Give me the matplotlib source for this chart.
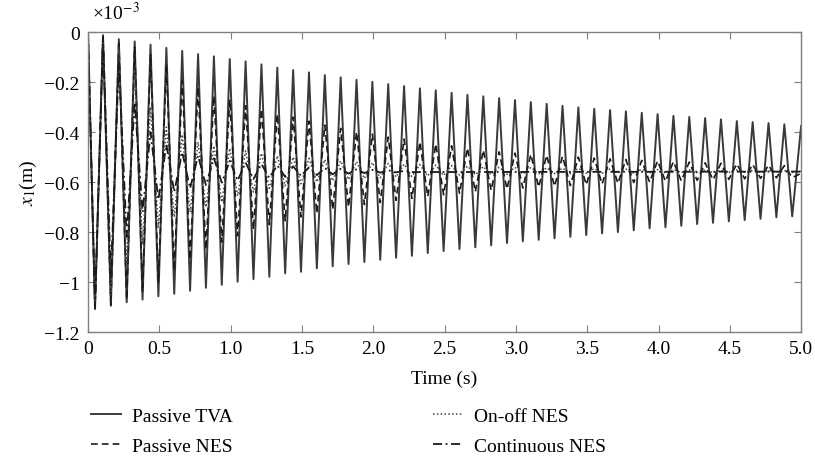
import numpy as np
import matplotlib.pyplot as plt
from matplotlib.lines import Line2D

# values in 1e-3 m, read per oscillation cycle (troughs come first, then peaks)
period = 0.1111          # s, from peak spacing
first_trough = 0.049     # s
first_peak = 0.105       # s
t_end = 5.0

tva_troughs = [-1.108, -1.095, -1.081, -1.070, -1.057, -1.047, -1.035, -1.023, -1.011, -0.999,
               -0.988, -0.979, -0.965, -0.959, -0.945, -0.937, -0.928, -0.920, -0.911, -0.903,
               -0.895, -0.884, -0.876, -0.868, -0.861, -0.853, -0.844, -0.837, -0.831, -0.825,
               -0.819, -0.812, -0.805, -0.800, -0.793, -0.785, -0.781, -0.775, -0.768, -0.763,
               -0.757, -0.752, -0.747, -0.741, -0.737]
tva_peaks = [-0.012, -0.028, -0.037, -0.050, -0.063, -0.075, -0.088, -0.097, -0.108, -0.117,
             -0.129, -0.142, -0.152, -0.161, -0.172, -0.181, -0.191, -0.199, -0.208, -0.216,
             -0.225, -0.233, -0.243, -0.251, -0.257, -0.264, -0.272, -0.280, -0.287, -0.295,
             -0.301, -0.307, -0.312, -0.317, -0.323, -0.328, -0.335, -0.339, -0.344, -0.349,
             -0.356, -0.360, -0.364, -0.369]
tva_start, tva_last = 0.0, -0.375

pnes_troughs = [-1.105, -1.090, -1.070, -1.040, -1.000, -0.955, -0.910, -0.870, -0.840, -0.815,
                -0.790, -0.770, -0.755, -0.740, -0.725, -0.710, -0.700, -0.690, -0.682, -0.673,
                -0.665, -0.658, -0.651, -0.645, -0.639, -0.633, -0.628, -0.624, -0.620, -0.617,
                -0.614, -0.611, -0.608, -0.605, -0.602, -0.600, -0.597, -0.595, -0.593, -0.591,
                -0.589, -0.587, -0.585, -0.583, -0.582]
pnes_peaks = [-0.015, -0.035, -0.060, -0.090, -0.130, -0.195, -0.220, -0.255, -0.270, -0.295,
              -0.308, -0.328, -0.340, -0.356, -0.372, -0.385, -0.399, -0.408, -0.420, -0.428,
              -0.439, -0.448, -0.455, -0.464, -0.472, -0.479, -0.484, -0.489, -0.493, -0.497,
              -0.500, -0.504, -0.507, -0.510, -0.513, -0.515, -0.518, -0.520, -0.523, -0.525,
              -0.527, -0.529, -0.532, -0.534]
pnes_start, pnes_last = 0.0, -0.565

onoff_troughs = [-1.100, -1.050, -0.950, -0.850, -0.780, -0.740, -0.720, -0.700, -0.680, -0.655,
                 -0.640, -0.625, -0.615, -0.607, -0.600, -0.595, -0.590, -0.586, -0.583, -0.580,
                 -0.578, -0.576, -0.574, -0.572, -0.571, -0.570, -0.569, -0.568, -0.567, -0.566,
                 -0.566, -0.565, -0.565, -0.564, -0.564, -0.563, -0.563, -0.562, -0.562, -0.562,
                 -0.561, -0.561, -0.561, -0.560, -0.560]
onoff_peaks = [-0.020, -0.060, -0.150, -0.300, -0.380, -0.410, -0.440, -0.455, -0.465, -0.475,
               -0.485, -0.495, -0.500, -0.505, -0.510, -0.515, -0.518, -0.522, -0.525, -0.528,
               -0.530, -0.532, -0.534, -0.536, -0.538, -0.540, -0.541, -0.542, -0.543, -0.544,
               -0.545, -0.546, -0.547, -0.548, -0.549, -0.550, -0.550, -0.551, -0.551, -0.552,
               -0.552, -0.553, -0.553, -0.554]
onoff_start, onoff_last = 0.0, -0.557

cont_troughs = [-1.100, -0.980, -0.820, -0.720, -0.670, -0.640, -0.625, -0.612, -0.602, -0.594,
                -0.588, -0.583, -0.579, -0.575, -0.572, -0.569, -0.566, -0.564, -0.562, -0.561,
                -0.560]
cont_peaks = [-0.020, -0.120, -0.280, -0.400, -0.450, -0.480, -0.495, -0.505, -0.515, -0.522,
              -0.528, -0.533, -0.537, -0.541, -0.544, -0.547, -0.549, -0.551, -0.553, -0.555]
cont_start, cont_last = 0.0, -0.558

labels = ['Passive TVA', 'Passive NES', 'On-off NES', 'Continuous NES']


def build(start, troughs, peaks, last):
    t = [0.0]
    y = [start]
    for k, v in enumerate(troughs):
        t.append(first_trough + k * period)
        y.append(v)
        if k < len(peaks):
            t.append(first_peak + k * period)
            y.append(peaks[k])
    t.append(t_end)
    y.append(last)
    return np.array(t), np.array(y)


plt.rcParams['font.family'] = ['Liberation Serif', 'DejaVu Serif']
plt.rcParams['mathtext.fontset'] = 'stix'

fig = plt.figure(figsize=(8.15, 4.6), dpi=100)
ax = fig.add_axes([0.108, 0.276, 0.875, 0.652])

series = [
    (build(tva_start, tva_troughs, tva_peaks, tva_last), '-', '#3a3a3a', 1.4),
    (build(pnes_start, pnes_troughs, pnes_peaks, pnes_last), (0, (4, 2.5)), '#1a1a1a', 1.2),
    (build(onoff_start, onoff_troughs, onoff_peaks, onoff_last), (0, (1, 1.5)), '#444444', 1.1),
    (build(cont_start, cont_troughs, cont_peaks, cont_last), (0, (5, 2, 1, 2)), '#1a1a1a', 1.3),
]
for (t, y), ls, c, lw in series:
    ax.plot(t, y, linestyle=ls, color=c, lw=lw)

ax.set_xlim(0, 5)
ax.set_ylim(-1.2, 0)
xt = [0, 0.5, 1.0, 1.5, 2.0, 2.5, 3.0, 3.5, 4.0, 4.5, 5.0]
ax.set_xticks(xt)
ax.set_xticklabels(['0'] + ['%.1f' % v for v in xt[1:]])
yt = [0, -0.2, -0.4, -0.6, -0.8, -1.0, -1.2]
ax.set_yticks(yt)
ax.set_yticklabels(['0', '\u22120.2', '\u22120.4', '\u22120.6', '\u22120.8', '\u22121', '\u22121.2'])
ax.tick_params(direction='in', top=True, right=True, length=5, width=0.8, color='#808080',
               labelsize=14, pad=6)
for s in ax.spines.values():
    s.set_color('#808080')
    s.set_linewidth(1.0)

ax.set_xlabel('Time (s)', fontsize=14, labelpad=9)
ax.set_ylabel('$x_1$(m)', fontsize=14, labelpad=4)
ax.text(0.005, 1.03, '\u00d710$^{-3}$', transform=ax.transAxes, fontsize=14, ha='left', va='bottom')

handles = [Line2D([], [], linestyle=ls, color=c, lw=lw) for _, ls, c, lw in series]
fig.legend(handles, labels,
           ncol=2, loc='upper left', bbox_to_anchor=(0.09, 0.15), frameon=False,
           fontsize=14, handlelength=1.55, columnspacing=10.3, labelspacing=0.62, handletextpad=0.55)

fig.savefig('out.png', dpi=100)
